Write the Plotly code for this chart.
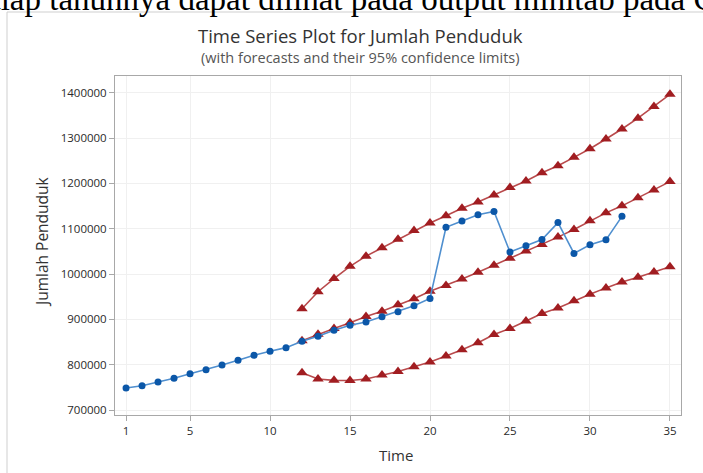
import plotly.graph_objects as go

# ---- data ----
time_actual = list(range(1, 33))
jumlah_penduduk = [748600, 753600, 761800, 770000, 780000, 789000, 799300, 810000,
                   820700, 829500, 837600, 851600, 862600, 875900, 887000, 894300,
                   905800, 916800, 930000, 946000, 1103300, 1117200, 1130800, 1138000,
                   1048500, 1062500, 1076300, 1113500, 1045500, 1064500, 1075500, 1127300]

time_fc = list(range(12, 36))
forecast = [853000, 867000, 880000, 892500, 906500, 918000, 932000, 945700,
            962000, 975000, 989000, 1004000, 1019500, 1035000, 1051000, 1065000,
            1081500, 1098500, 1117500, 1135000, 1150500, 1168500, 1185500, 1204000]
upper = [923500, 961000, 990000, 1017000, 1039500, 1058000, 1077000, 1096000,
         1112700, 1128800, 1145000, 1159000, 1174500, 1191200, 1205300, 1223500,
         1239000, 1257500, 1276500, 1298000, 1320000, 1344000, 1369500, 1396500]
lower = [782000, 768500, 765500, 765000, 768500, 777000, 785000, 795600,
         806000, 819200, 833000, 848600, 866500, 880000, 896500, 913000,
         925000, 941000, 955500, 969500, 982500, 993000, 1004500, 1016000]

x_ticks = [1, 5, 10, 15, 20, 25, 30, 35]
y_ticks = [700000, 800000, 900000, 1000000, 1100000, 1200000, 1300000, 1400000]

# ---- layout geometry (pixels) ----
W, H = 703, 473
L, R, T, B = 115, 681, 76, 415


def px(x):
    return (x - L) / (R - L)


def py(y):
    return (B - y) / (B - T)


RED_M = "#a11d21"
RED_L = "#b94a4c"
BLUE_M = "#0b57a8"
BLUE_L = "#4f8fcf"

fig = go.Figure()
for ys in (upper, forecast, lower):
    fig.add_trace(go.Scatter(
        x=time_fc, y=ys, mode="lines+markers",
        line=dict(color=RED_L, width=1.6),
        marker=dict(symbol="triangle-up", size=10, color=RED_M),
        showlegend=False, hoverinfo="x+y"))
fig.add_trace(go.Scatter(
    x=time_actual, y=jumlah_penduduk, mode="lines+markers",
    line=dict(color=BLUE_L, width=1.6),
    marker=dict(symbol="circle", size=7, color=BLUE_M),
    showlegend=False, hoverinfo="x+y"))

axis_common = dict(
    showline=True, mirror=True, linecolor="#a8a8a8", linewidth=1,
    ticks="outside", ticklen=5, tickcolor="#a8a8a8",
    showgrid=True, gridcolor="#f0f0f0", gridwidth=1, zeroline=False,
    tickfont=dict(family="Open Sans", size=11.5, color="#2a2a2a"),
)

fig.update_layout(
    width=W, height=H, autosize=False,
    margin=dict(l=L, r=W - R, t=T, b=H - B, pad=0),
    paper_bgcolor="white", plot_bgcolor="white",
    xaxis=dict(range=[0.31, 35.69], tickvals=x_ticks, **axis_common),
    yaxis=dict(range=[689000, 1437000], tickvals=y_ticks, tickformat="d", **axis_common),
    font=dict(family="Open Sans", color="#333333"),
)

ann = [
    dict(text="Time Series Plot for Jumlah Penduduk", x=px(360), y=py(36),
         font=dict(size=18.5, color="#333333", family="Open Sans")),
    dict(text="(with forecasts and their 95% confidence limits)", x=px(360), y=py(57),
         font=dict(size=14.5, color="#555555", family="Open Sans")),
    dict(text="Time", x=px(396), y=py(455),
         font=dict(size=15, color="#333333", family="Open Sans")),
    dict(text="Jumlah Penduduk", x=px(42), y=py(242), textangle=-90,
         font=dict(size=15.5, color="#333333", family="Open Sans")),
    dict(text="setiap tahunnya dapat dilihat pada output minitab pada Gambar",
         x=px(-38), y=py(-1), xanchor="left", yanchor="middle",
         font=dict(size=33, color="#000000", family="Liberation Serif")),
]
for a in ann:
    a.setdefault("xanchor", "center")
    a.setdefault("yanchor", "middle")
    fig.add_annotation(xref="paper", yref="paper", showarrow=False, **a)

fig.add_shape(type="rect", xref="paper", yref="paper",
              x0=px(7), x1=px(720), y0=py(490), y1=py(12),
              line=dict(color="#cfcfcf", width=1), layer="below")

fig.write_html("out.html")
